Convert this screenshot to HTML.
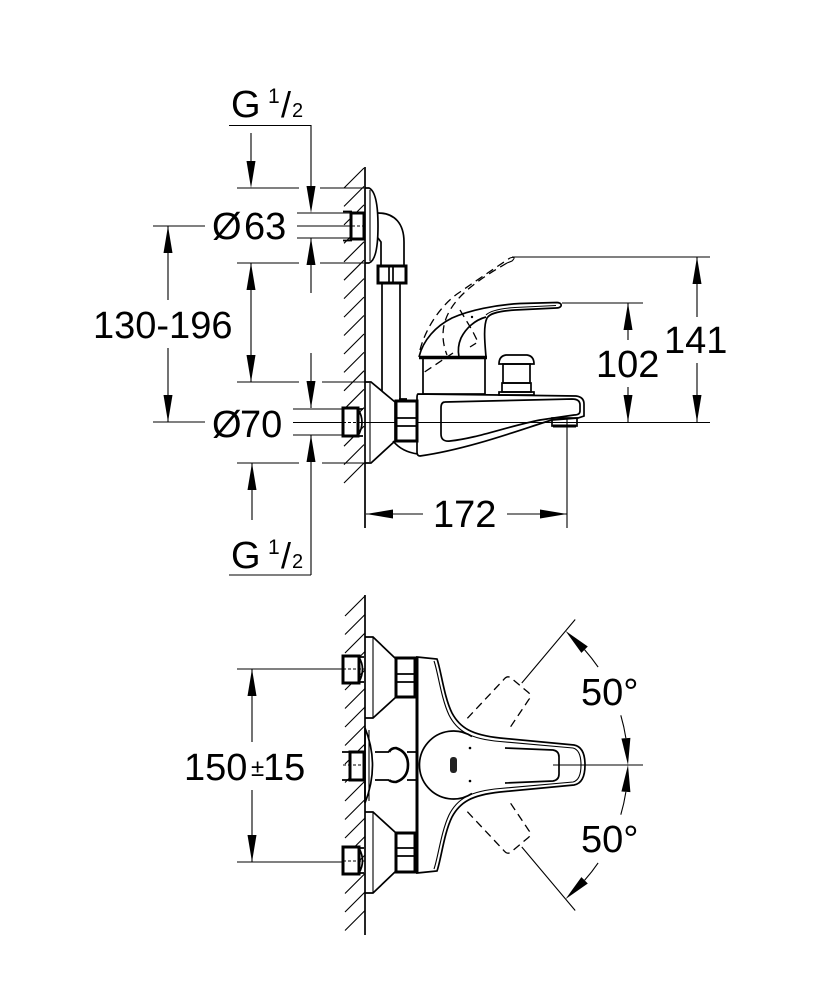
<!DOCTYPE html>
<html><head><meta charset="utf-8"><style>
html,body{margin:0;padding:0;background:#fff;}
svg{display:block}
text{font-family:"Liberation Sans",Arial,sans-serif;fill:#000}
.t{stroke:#000;stroke-width:1.1;fill:none}
.m{stroke:#000;stroke-width:1.7;fill:none}
.k{stroke:#000;stroke-width:3;fill:#fff}
.d{stroke:#000;stroke-width:1.3;fill:none;stroke-dasharray:8 5}
.c{stroke:#000;stroke-width:0.9;fill:none;stroke-dasharray:3 2}
</style></head><body>
<svg width="833" height="1000" viewBox="0 0 833 1000" xmlns="http://www.w3.org/2000/svg">
<rect width="833" height="1000" fill="#fff"/>

<!-- ============ SIDE VIEW ============ -->
<!-- hatch -->
<path class="t" d="M344,188L364,168 M344,206.4L364,186.4 M344,224.9L364,204.9 M344,243.3L364,223.3 M344,261.8L364,241.8 M344,280.2L364,260.2 M344,298.6L364,278.6 M344,317.1L364,297.1 M344,335.5L364,315.5 M344,354L364,334 M344,372.4L364,352.4 M344,390.8L364,370.8 M344,409.3L364,389.3 M344,427.7L364,407.7 M344,446.2L364,426.2 M344,464.6L364,444.6 M344,483L364,463"/>
<!-- wall -->
<path class="m" d="M365,167V528"/>

<!-- dimension lines -->
<path class="t" d="M229,125.5H311V188 M251,133V165 M237,188H299 M320,188H364
M297,213H350 M297,226H352 M297,238H350
M311,238V293 M251,263V382 M237,263H299 M320,263H364
M153,226H205 M153,422H205 M168,226V300 M168,348V422
M237,382H299 M322,382H365 M311,353V408
M293,409H343 M293,422.5H710 M293,435H343
M311,435V575 M229,575H311
M237,463H299 M322,463H365 M252,463V520
M512,257H710 M562,303H643
M628,303V340 M628,387V422 M697,257V317 M697,363V422
M366,514H423 M507,514H567 M567,418V528"/>

<!-- arrows -->
<g fill="#000">
<polygon points="306.5,186 315.5,186 311,213"/>
<polygon points="246.5,161 255.5,161 251,188"/>
<polygon points="306.5,265 315.5,265 311,238"/>
<polygon points="246.5,290 255.5,290 251,263"/>
<polygon points="246.5,355 255.5,355 251,382"/>
<polygon points="306.5,381 315.5,381 311,408"/>
<polygon points="306.5,462 315.5,462 311,435"/>
<polygon points="247.5,490 256.5,490 252,463"/>
<polygon points="163.5,253 172.5,253 168,226"/>
<polygon points="163.5,395 172.5,395 168,422"/>
<polygon points="623.5,330 632.5,330 628,303"/>
<polygon points="623.5,395 632.5,395 628,422"/>
<polygon points="692.5,284 701.5,284 697,257"/>
<polygon points="692.5,395 701.5,395 697,422"/>
<polygon points="366,514 393,509.5 393,518.5"/>
<polygon points="567,514 540,509.5 540,518.5"/>
</g>

<!-- texts -->
<text x="231" y="117" font-size="38">G</text>
<text x="268" y="103" font-size="21">1</text>
<text x="281" y="117" font-size="36">/</text>
<text x="292" y="117" font-size="20">2</text>

<text x="212" y="239" font-size="38">Ø</text>
<text x="244" y="239" font-size="38">63</text>
<text x="93" y="338" font-size="38">130-196</text>
<text x="212" y="437" font-size="38">Ø</text>
<text x="240" y="437" font-size="38">70</text>

<text x="231" y="568" font-size="38">G</text>
<text x="268" y="554" font-size="21">1</text>
<text x="281" y="568" font-size="36">/</text>
<text x="292" y="568" font-size="20">2</text>

<text x="596" y="377" font-size="38">102</text>
<text x="664" y="353" font-size="38">141</text>
<text x="433" y="527" font-size="38">172</text>

<!-- upper escutcheon -->
<path class="m" fill="#fff" d="M365,188 H369 Q378,192 378,226 Q378,260 369,263 H365"/>
<path class="t" d="M370,190 V261"/>
<!-- upper wall nut -->
<rect x="351" y="213" width="13" height="26" class="k"/>
<path class="m" d="M343,211.5 H352 M343,240.5 H352"/>
<path class="c" d="M352,226H364"/>
<!-- elbow -->
<path class="m" fill="#fff" d="M378,213 C395,213 404,224 404,242 V266 H381 V242 L378,238"/>
<rect x="378" y="266" width="28" height="17" class="k"/>
<path class="m" d="M389,266V283 M393,266V283"/>
<!-- hose -->
<path class="m" d="M382,283V391 M400,283V401"/>

<!-- lower escutcheon with cone -->
<path class="m" fill="#fff" d="M365,382 H371 L395,402 V441 L371,463 H365"/>
<path class="t" d="M370,383 V462"/>
<path class="m" d="M393,441 Q402,452 418,454"/>
<!-- lower wall nut -->
<rect x="343" y="408" width="15" height="28" class="k"/>
<path class="m" fill="#fff" d="M358,409 H363 M358,436 H363 M358,409 Q366,422 358,436"/>
<path class="c" d="M343,422.5H365"/>
<!-- cone nut -->
<rect x="396" y="401" width="21" height="40" class="k"/>
<path class="m" d="M396,418H417 M396,426H417 M399,399H407"/>

<!-- spout body -->
<path class="m" fill="#fff" d="M418,394 L576,396 Q584,397 584,404 V416 L578,418 L552,420 C525,428 470,449 420,456 Q417,456 417,452 V398 Q417,394 418,394 Z"/>
<path class="t" d="M417,422.5H584"/>
<path class="m" d="M445,402 L572,399 Q580,399 580,405 V411 Q580,415 574,415 L540,420 C505,427 478,438 450,441 Q441,442 441,434 V408 Q441,402 445,402 Z"/>
<rect x="552" y="418" width="25" height="8" class="m" fill="#fff"/>
<path class="k" d="M553,426H576"/>

<!-- column -->
<rect x="423" y="357" width="62" height="37" class="m" fill="#fff"/>
<path stroke="#000" stroke-width="3.5" d="M419,357.5H487"/>

<!-- ghost lever -->
<path class="d" d="M420,350 C425,330 440,305 460,292 C480,278 498,266 510,258"/>
<path class="d" d="M507,263 C495,270 478,280 465,292 C450,306 443,320 443,335 C443,343 445,350 447,355"/>
<path class="t" d="M510,258 Q517,256 512,261 L507,263"/>
<path class="d" d="M460,310 L472,330 L478,342 L470,347"/>
<path class="d" d="M453,353 L423,373"/>

<!-- lever -->
<path class="m" d="M419,357 C423,340 436,326 452,318 C470,310 495,305 520,303.5 L557,302.5 Q562,303 561,306 Q560,308 556,308 L515,310 C500,311 490,313 487,318 C483,326 485,345 486,357"/>
<path class="m" d="M486,317 C475,320 466,328 461,338 C458,345 458,352 459,357"/>
<path class="t" d="M556,305.5 L515,307.5 C500,308.5 490,311 486,315"/>
<circle cx="472" cy="317" r="1.2" fill="#000"/>

<!-- knob -->
<path class="m" fill="#fff" d="M499,364 Q499,356 506,355 H527 Q534,356 534,364 Z"/>
<rect x="503" y="364" width="27" height="19" class="m" fill="#fff"/>
<rect x="502" y="383" width="29" height="9" class="m" fill="#fff"/>
<rect x="499" y="392" width="35" height="3" class="m" fill="#fff"/>

<!-- ============ TOP VIEW ============ -->
<path class="t" d="M345,616L365,596 M345,634.5L365,614.5 M345,653L365,633 M345,671.5L365,651.5 M345,690L365,670 M345,708.5L365,688.5 M345,727L365,707 M345,745.5L365,725.5 M345,764L365,744 M345,782.5L365,762.5 M345,801L365,781 M345,819.5L365,799.5 M345,838L365,818 M345,856.5L365,836.5 M345,875L365,855 M345,893.5L365,873.5 M345,912L365,892 M345,930.5L365,910.5"/>
<path class="m" d="M365,595V935"/>

<!-- dimension 150±15 -->
<path class="t" d="M237,669H343 M237,862H343 M252,669V742 M252,790V862"/>
<g fill="#000">
<polygon points="247.5,696 256.5,696 252,669"/>
<polygon points="247.5,835 256.5,835 252,862"/>
</g>
<text x="184" y="780" font-size="38">150</text>
<text x="251" y="776" font-size="24">±</text>
<text x="263" y="780" font-size="38">15</text>

<!-- upper & lower fittings -->
<g id="fit">
<path class="m" fill="#fff" d="M365,637 H373 L396,659 V697 L373,718 H365"/>
<path class="t" d="M373,637V718"/>
<rect x="396" y="658" width="19" height="39" class="k"/>
<path class="m" d="M396,674H415 M396,682H415"/>
<rect x="343" y="656" width="16" height="27" class="k"/>
<path class="m" d="M359,657 H364 M359,682 H364 M359,657 Q366,669 359,682"/>
<path class="c" d="M343,669H365"/>
</g>
<g transform="translate(0,1530) scale(1,-1)">
<path class="m" fill="#fff" d="M365,637 H373 L396,659 V697 L373,718 H365"/>
<path class="t" d="M373,637V718"/>
<rect x="396" y="658" width="19" height="39" class="k"/>
<path class="m" d="M396,674H415 M396,682H415"/>
<rect x="343" y="656" width="16" height="27" class="k"/>
<path class="m" d="M359,657 H364 M359,682 H364 M359,657 Q366,669 359,682"/>
<path class="c" d="M343,669H365"/>
</g>

<!-- middle -->
<path class="m" fill="#fff" d="M365,728 Q380,765 365,803 Z"/>
<path class="t" d="M369,730V801"/>
<path class="m" d="M342,752H351 M342,780H351 M375,752H390 M375,780H390 M407,752H416 M407,780H416"/>
<rect x="350" y="752" width="14" height="28" class="k"/>
<path class="c" d="M343,765H365"/>
<path stroke="#000" stroke-width="2.6" fill="#fff" d="M389,752 Q391,748 396,748 Q408,752 408,765 Q408,778 396,782 Q391,782 389,780"/>

<!-- ghost levers -->
<g transform="rotate(-50 453 765)">
<path class="d" d="M498,746 L552,749 Q557,749 557,754 V776 Q557,781 552,781 L515,785"/>
</g>
<g transform="rotate(50 453 765)">
<path class="d" d="M498,784 L552,781 Q557,781 557,776 V754 Q557,749 552,749 L515,745"/>
</g>

<!-- body & lever -->
<path class="m" fill="#fff" d="M417,657 L437,659 C441,670 444,697 452,713 C460,728 472,735 500,738 L574,745 Q585,747 585,765 Q585,783 574,785 L500,792 C472,795 460,802 452,817 C444,833 441,860 437,871 L417,873 Z"/>
<path class="t" d="M434,661 C438,672 441,698 449,715 C457,731 470,739 500,741.5 L573,748 Q581,750 581,765 Q581,780 573,782 L500,788.5 C470,791 457,799 449,815 C441,832 438,858 434,869"/>
<path class="m" d="M505,748 L553,750 Q559,751 559,757 V774 Q559,780 553,781 L505,783"/>
<path stroke="#000" stroke-width="3" d="M417,657V873"/>
<path class="m" fill="#fff" d="M472,736.5 A34,34 0 1,0 472,793.5"/>
<rect x="450" y="757" width="7" height="16" rx="3" fill="#222"/>
<circle cx="470" cy="748" r="1.3" fill="#000"/>
<circle cx="470" cy="781" r="1.3" fill="#000"/>
<path class="t" d="M553,765H643"/>

<!-- angle dimensions -->
<path class="t" d="M521.8,683 L575.2,619.5 M521.8,847 L575.2,910.5"/>
<path class="t" d="M584.6,649.7 A175,175 0 0,1 598.1,667.1 M620.8,715.3 A175,175 0 0,1 625.9,738.2"/>
<path class="t" d="M584.6,880.3 A175,175 0 0,0 598.1,862.9 M620.8,814.7 A175,175 0 0,0 625.9,791.8"/>
<g fill="#000">
<polygon points="565.5,630.9 581.4,652.9 587.8,646.5"/>
<polygon points="628,765 621.4,738.5 630.4,737.9"/>
<polygon points="628,765 621.4,791.5 630.4,792.1"/>
<polygon points="565.5,899.1 581.4,877.1 587.8,883.5"/>
</g>
<text x="581" y="705" font-size="38">50°</text>
<text x="581" y="852" font-size="38">50°</text>
</svg>
</body></html>
